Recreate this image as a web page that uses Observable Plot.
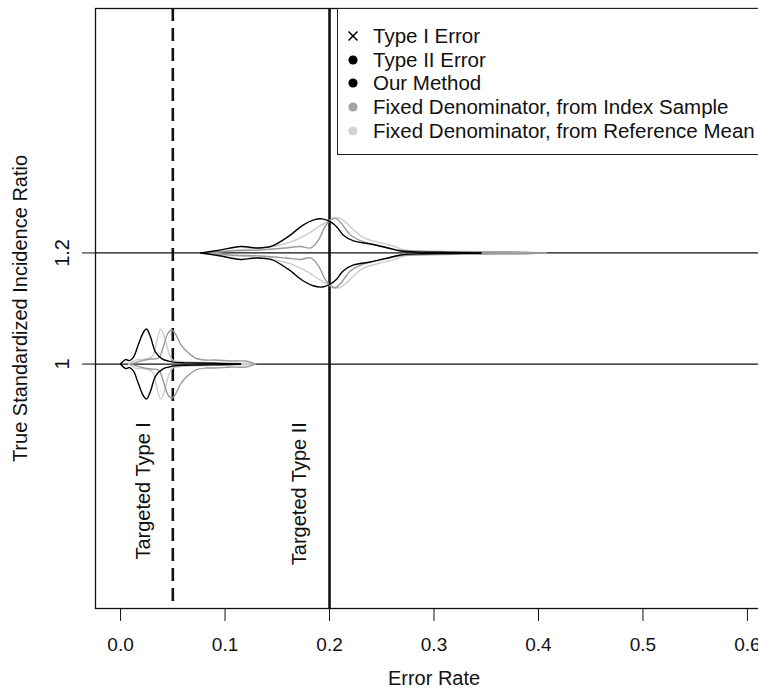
<!DOCTYPE html>
<html>
<head>
<meta charset="utf-8">
<script src="https://cdn.jsdelivr.net/npm/d3@7"></script>
<script src="https://cdn.jsdelivr.net/npm/@observablehq/plot@0.6"></script>
<style>
  html, body { margin: 0; padding: 0; background: white; overflow: hidden; }
  #wrap { position: relative; width: 758px; height: 691px; overflow: hidden; font-family: "Liberation Sans", Arial, sans-serif; }
  #legend { position: absolute; left: 337px; top: 8px; width: 436px; height: 147px; border: 1.3px solid #222; box-sizing: border-box; background: white; }
  .lrow { position: absolute; left: 0; height: 24px; display: flex; align-items: center; font-size: 20.5px; color: #111; white-space: nowrap; }
  .lrow svg { width: 20px; height: 20px; margin-left: 5px; margin-right: 10px; overflow: visible; }
</style>
</head>
<body>
<div id="wrap"></div>
<script>
// ---------- data ----------
const methods = ["Our Method", "Fixed Denominator, from Index Sample", "Fixed Denominator, from Reference Mean"];
const methodColors = ["#000000", "#999999", "#cccccc"];
const trueSIR = [1, 1.2];          // violin baselines: Type I at SIR 1, Type II at SIR 1.2

// Type I error (true SIR = 1): error rate x, violin half-width w (in SIR units)
const t1OurX = [0, 0.0048, 0.0086, 0.0124, 0.0172, 0.0220, 0.0249, 0.0287, 0.0335, 0.0402, 0.0459, 0.0526, 0.0622, 0.0766, 0.0957, 0.1148];
const t1OurW = [0, 0.0081, 0.0063, 0.0126, 0.0360, 0.0577, 0.0631, 0.0486, 0.0216, 0.0090, 0.0054, 0.0030, 0.0022, 0.0018, 0.0012, 0];
const t1IdxX = [0.0096, 0.0191, 0.0287, 0.0364, 0.0411, 0.0450, 0.0488, 0.0526, 0.0574, 0.0641, 0.0718, 0.0813, 0.0909, 0.1053, 0.1196, 0.1292];
const t1IdxW = [0, 0.0054, 0.0090, 0.0108, 0.0324, 0.0541, 0.0613, 0.0541, 0.0360, 0.0216, 0.0108, 0.0072, 0.0072, 0.0054, 0.0054, 0];
const t1RefX = [0.0077, 0.0144, 0.0239, 0.0306, 0.0344, 0.0383, 0.0421, 0.0459, 0.0498, 0.0574, 0.0670, 0.0813, 0.0957, 0.1148, 0.1292];
const t1RefW = [0, 0.0072, 0.0090, 0.0144, 0.0396, 0.0631, 0.0486, 0.0216, 0.0072, 0.0045, 0.0036, 0.0027, 0.0018, 0.0014, 0];

// Type II error (true SIR = 1.2)
const t2OurX = [0.077, 0.093, 0.115, 0.131, 0.144, 0.160, 0.175, 0.185, 0.193, 0.201, 0.207, 0.213, 0.223, 0.239, 0.256, 0.268, 0.287, 0.316, 0.345];
const t2OurW = [0, 0.0045, 0.0117, 0.0090, 0.0117, 0.0288, 0.0505, 0.0595, 0.0613, 0.0559, 0.0468, 0.0324, 0.0216, 0.0162, 0.0090, 0.0036, 0.0015, 0.0010, 0];
const t2IdxX = [0.081, 0.105, 0.134, 0.158, 0.172, 0.182, 0.190, 0.195, 0.200, 0.205, 0.211, 0.220, 0.233, 0.249, 0.265, 0.278, 0.297, 0.325, 0.354, 0.383, 0.407];
const t2IdxW = [0, 0.0036, 0.0054, 0.0090, 0.0117, 0.0090, 0.0252, 0.0450, 0.0577, 0.0631, 0.0541, 0.0324, 0.0198, 0.0126, 0.0054, 0.0036, 0.0027, 0.0022, 0.0018, 0.0014, 0];
const t2RefX = [0.086, 0.101, 0.124, 0.148, 0.163, 0.179, 0.191, 0.201, 0.209, 0.215, 0.223, 0.233, 0.249, 0.261, 0.271, 0.287, 0.316, 0.345, 0.373, 0.407];
const t2RefW = [0, 0.0036, 0.0072, 0.0126, 0.0198, 0.0342, 0.0486, 0.0595, 0.0631, 0.0559, 0.0414, 0.0270, 0.0180, 0.0126, 0.0054, 0.0036, 0.0027, 0.0022, 0.0018, 0];

const xTicks = [0, 0.1, 0.2, 0.3, 0.4, 0.5, 0.6];
const yTicks = [1, 1.2];
const yTickLabels = ["1", "1.2"];
const targetRates = [0.05, 0.2];
const targetLabels = ["Targeted Type I", "Targeted Type II"];
const targetLabelX = [0.022, 0.171];
const targetLabelY = 0.8955;

const legendLabels = ["Type I Error", "Type II Error", "Our Method", "Fixed Denominator, from Index Sample", "Fixed Denominator, from Reference Mean"];
const legendSymbols = ["cross", "dot", "dot", "dot", "dot"];
const legendColors = ["#000000", "#000000", "#000000", "#a3a3a3", "#d3d3d3"];

// ---------- build line table (draw light first, black last) ----------
const series = [
  {base: trueSIR[0], m: 2, x: t1RefX, w: t1RefW},
  {base: trueSIR[1], m: 2, x: t2RefX, w: t2RefW},
  {base: trueSIR[0], m: 1, x: t1IdxX, w: t1IdxW},
  {base: trueSIR[1], m: 1, x: t2IdxX, w: t2IdxW},
  {base: trueSIR[0], m: 0, x: t1OurX, w: t1OurW},
  {base: trueSIR[1], m: 0, x: t2OurX, w: t2OurW}
];
const rows = [];
series.forEach((s, i) => {
  for (const side of [1, -1]) {
    s.x.forEach((xv, j) => rows.push({key: i + "_" + side, x: xv, y: s.base + side * s.w[j], color: methodColors[s.m]}));
  }
});

const chart = Plot.plot({
  width: 758,
  height: 691,
  marginLeft: 95,
  marginRight: -14,
  marginTop: 8,
  marginBottom: 83,
  x: {domain: [-0.024, 0.624]},
  y: {domain: [0.56, 1.64]},
  style: {fontFamily: "Liberation Sans, Arial, sans-serif", fontSize: "20px", background: "white", color: "#111", maxWidth: "none", overflow: "hidden"},
  marks: [
    Plot.ruleY(yTicks, {stroke: "#111", strokeWidth: 1.3}),
    Plot.ruleX([targetRates[0]], {stroke: "#111", strokeWidth: 2.6, strokeDasharray: "13,7"}),
    Plot.ruleX([targetRates[1]], {stroke: "#111", strokeWidth: 2.6}),
    Plot.line(rows, {x: "x", y: "y", z: "key", stroke: "color", strokeWidth: 1.4, curve: "catmull-rom"}),
    Plot.text(targetLabels, {x: targetLabelX, y: [targetLabelY, targetLabelY], text: d => d, rotate: -90, textAnchor: "end", lineAnchor: "middle", fontSize: 20, fill: "#111"}),
    Plot.frame({stroke: "#111", strokeWidth: 1.3}),
    Plot.axisX({ticks: xTicks, tickSize: 13, tickPadding: 16, tickFormat: d => d.toFixed(1), label: null, fontSize: 19, stroke: "#111"}),
    Plot.axisY({ticks: yTicks, tickSize: 13, tickFormat: () => "", label: null, stroke: "#111"}),
    Plot.text(yTicks, {y: d => d, text: yTickLabels, frameAnchor: "left", dx: -33, rotate: -90, textAnchor: "middle", lineAnchor: "middle", fontSize: 20, fill: "#111"}),
    Plot.text(["True Standardized Incidence Ratio"], {frameAnchor: "left", dx: -75, rotate: -90, textAnchor: "middle", lineAnchor: "middle", fontSize: 20, fill: "#111"}),
    Plot.text(["Error Rate"], {frameAnchor: "bottom", dy: 70, textAnchor: "middle", lineAnchor: "middle", fontSize: 20, fill: "#111"})
  ]
});

const wrap = document.getElementById("wrap");
wrap.appendChild(chart);

// ---------- legend ----------
const legend = document.createElement("div");
legend.id = "legend";
legendLabels.forEach((lab, i) => {
  const row = document.createElement("div");
  row.className = "lrow";
  row.style.top = (27 - 12 + i * 23.7) + "px";
  const sym = legendSymbols[i] === "cross"
    ? `<svg viewBox="-10 -10 20 20"><path d="M-4.5,-4.5L4.5,4.5M-4.5,4.5L4.5,-4.5" stroke="${legendColors[i]}" stroke-width="1.5"/></svg>`
    : `<svg viewBox="-10 -10 20 20"><circle r="4.6" fill="${legendColors[i]}"/></svg>`;
  row.innerHTML = sym + `<span>${lab}</span>`;
  legend.appendChild(row);
});
wrap.appendChild(legend);
</script>
</body>
</html>
